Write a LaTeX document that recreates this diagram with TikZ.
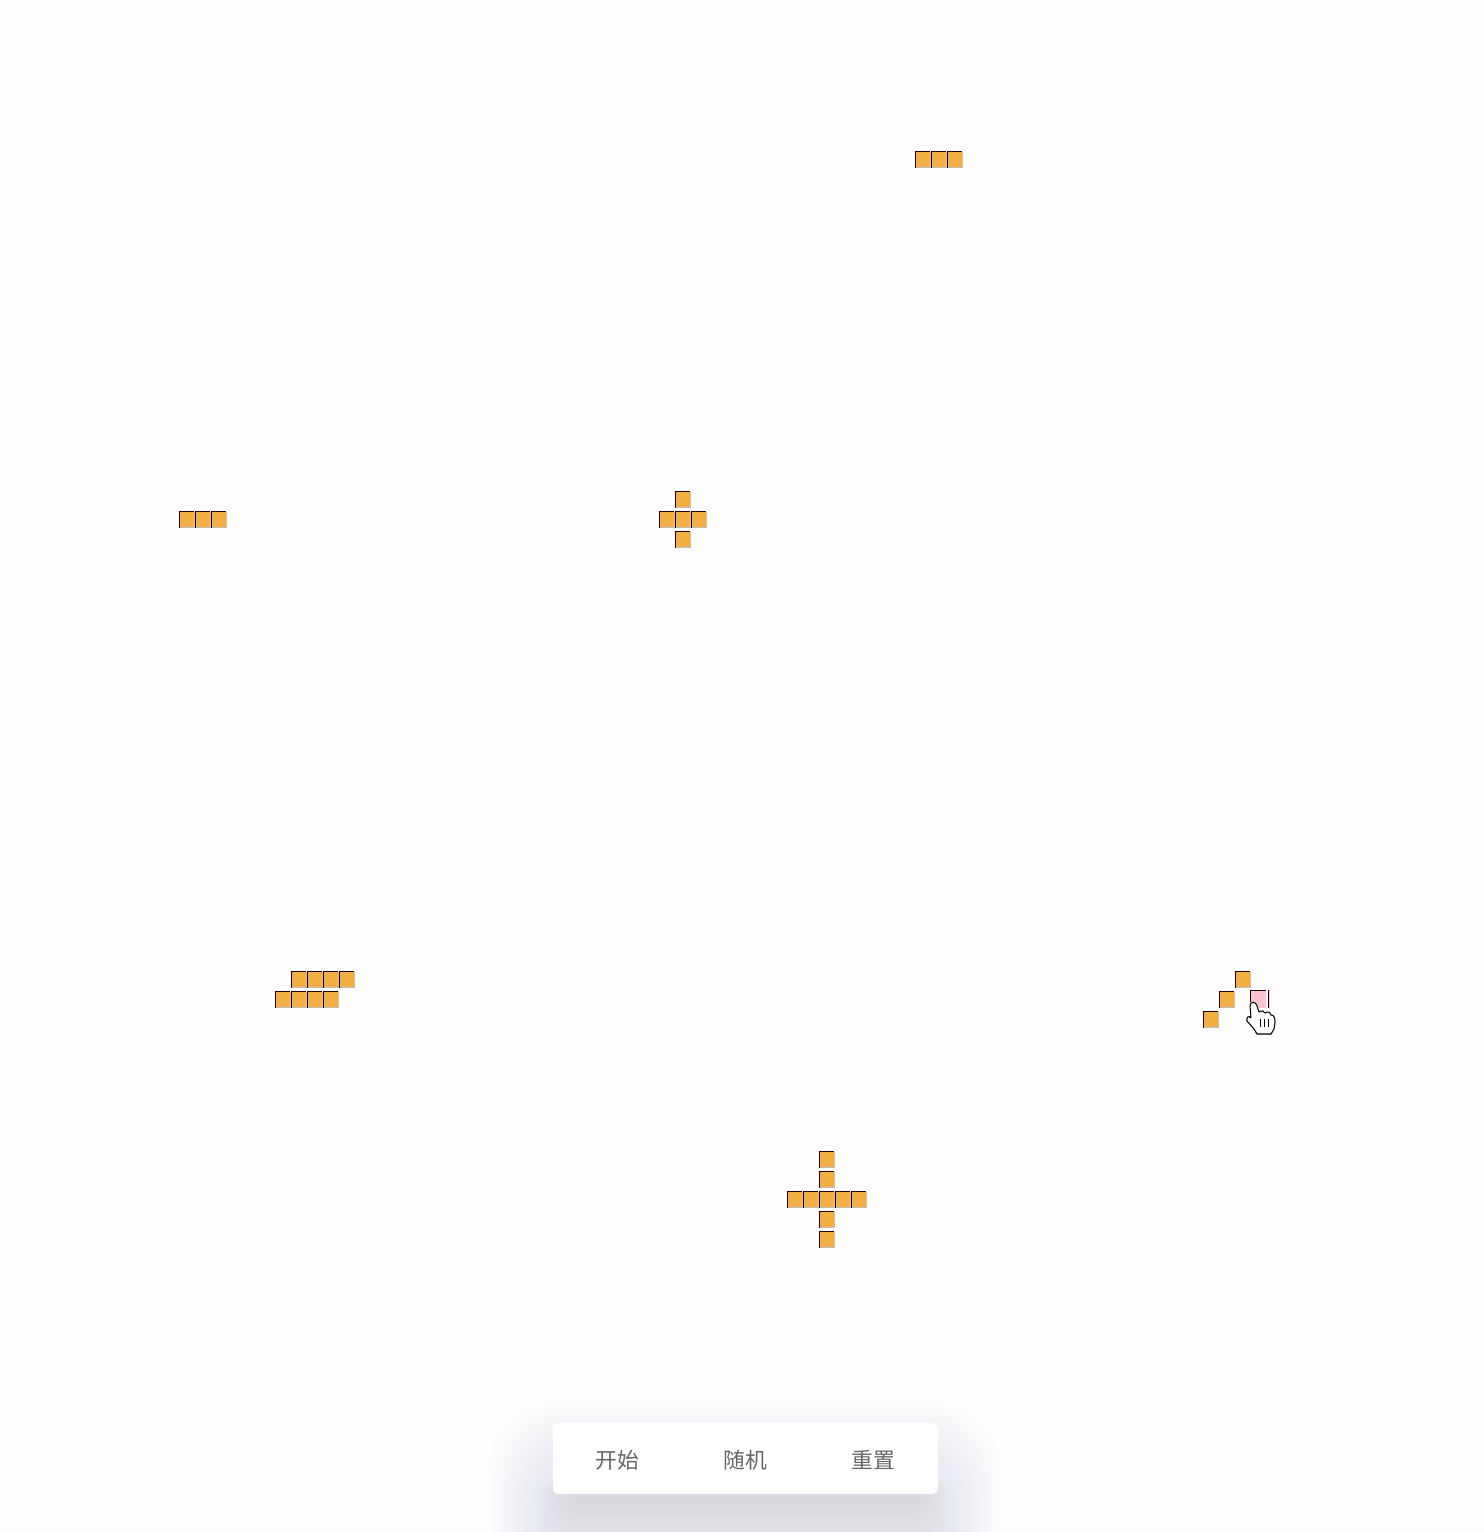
\documentclass[tikz,border=0pt]{standalone}
\usepackage{fontspec}
\newfontfamily\cjk{Noto Sans CJK SC}
\usetikzlibrary{calc}
\definecolor{pagebg}{HTML}{FEFEFE}
\definecolor{cellfill}{HTML}{F3AE44}
\definecolor{cellpink}{HTML}{FBC4CF}
\definecolor{haloouter}{HTML}{E9EBF2}
\definecolor{haloinner}{HTML}{D9DADF}
\definecolor{labelgray}{HTML}{666666}
\tikzset{
  celledge/.style={line width=.55pt,black!85!red},
  cellrim/.style={line width=.3pt,black!25},
  handline/.style={line width=.6pt,black,fill=white,line join=round},
  btnlabel/.style={font=\cjk\fontsize{12.4pt}{14pt}\selectfont,text=labelgray,inner sep=0pt}
}
\begin{document}
\begin{tikzpicture}[x=.02cm,y=-.02cm]
  \useasboundingbox (0,0) rectangle (1484,1532);
  \clip (0,0) rectangle (1484,1532);
  \fill[pagebg] (0,0) rectangle (1484,1532);

  % halo under the bar
  \foreach \i in {0,...,18} {
    \pgfmathsetmacro{\p}{\i*100/18}
    \fill[haloouter!\p!pagebg,rounded corners=1.4cm]
      (485+2.6*\i,1398+2.6*\i) rectangle (1005-2.6*\i,1620);
  }
  \foreach \i in {0,...,15} {
    \pgfmathsetmacro{\p}{\i*100/15}
    \fill[haloinner!\p!haloouter,rounded corners=.4cm]
      (532+2.4*\i,1480) rectangle (958-2.4*\i,1560-3.6*\i);
  }
  \fill[white,rounded corners=.12cm] (553,1423) rectangle (938,1494);

  \node[btnlabel] (start) at (617,1460) {开始};
  \node[btnlabel] (shuffle) at (745,1460) {随机};
  \node[btnlabel] (reset) at (873,1460) {重置};

  % live cells
  \foreach \x/\y in {915/151,931/151,947/151,
      179/511,195/511,211/511,
      675/491,659/511,675/511,691/511,675/531,
      291/971,307/971,323/971,339/971,275/991,291/991,307/991,323/991,
      1235/971,1219/991,1203/1011,
      819/1151,819/1171,787/1191,803/1191,819/1191,835/1191,851/1191,819/1211,819/1231} {
    \fill[cellfill] (\x,\y) rectangle ++(15,16.5);
    \draw[cellrim] (\x+14.8,\y+1) -- ++(0,15.3) -- ++(-13.8,0);
    \draw[celledge] (\x+.5,\y+16.5) -- (\x+.5,\y+.5) -- (\x+15,\y+.5);
  }

  % hovered cell
  \fill[cellpink] (1249.5,989.5) rectangle (1266,1008);
  \fill[cellpink] (1267.5,990) rectangle (1270,1008);
  \draw[celledge] (1250,1002) -- (1250,990) -- (1266,990);
  \draw[celledge] (1268,1008) -- (1268,990);

  % hand pointer
  \draw[handline] (1251,1018) -- (1250,1006) .. controls (1250,1001) and (1256,1001) .. (1257,1006)
    -- (1259,1012) .. controls (1262,1010) and (1264,1011) .. (1265,1013)
    .. controls (1268,1011) and (1270,1012) .. (1271,1015)
    .. controls (1274,1015) and (1275,1018) .. (1275,1022)
    -- (1274,1029) -- (1271,1034) -- (1257,1034) -- (1254,1029) -- (1247,1021)
    .. controls (1246,1017) and (1249,1015) .. (1251,1018);
  \foreach \x in {1260.5,1264.5,1268.5} {
    \draw[line width=.9pt,black] (\x,1019) -- (\x,1027);
  }
\end{tikzpicture}
\end{document}
